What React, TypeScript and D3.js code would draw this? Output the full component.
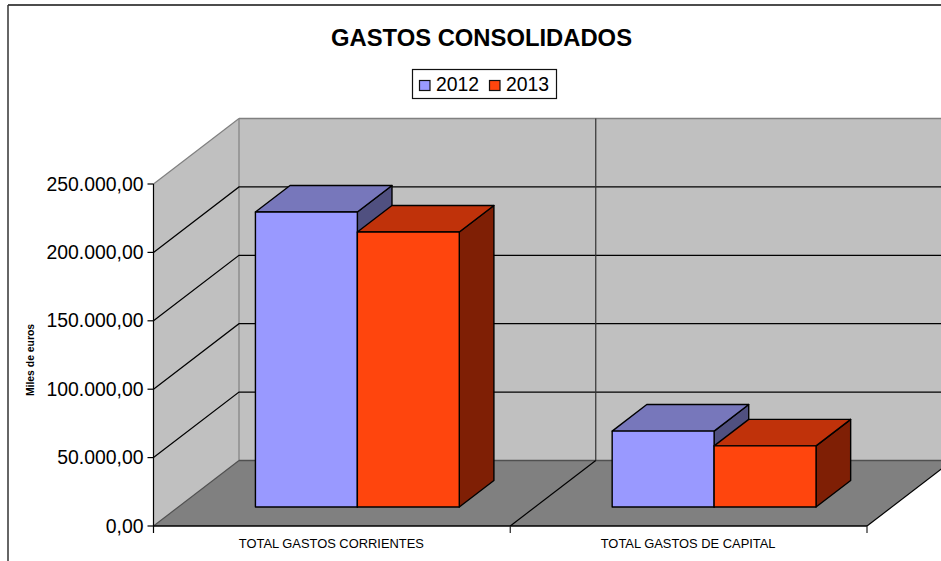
import React from "react";
import * as d3 from "d3";

const categories = ["TOTAL GASTOS CORRIENTES", "TOTAL GASTOS DE CAPITAL"];
const years = ["2012", "2013"];
const values2012 = [215600, 55500];
const values2013 = [201000, 44700];
const yTickValues = [0, 50000, 100000, 150000, 200000, 250000];

const W = 941;
const H = 561;
const FONT = "'Liberation Sans', Arial, sans-serif";
const frontLeft = 153.5;
const frontRight = 867;
const depthX = 85.5;
const depthY = 65.5;
const barDepthStart = 0.298;
const barDepthEnd = 0.703;

const fills = [
  { front: "#9999FF", top: "#7777BB", side: "#505080" },
  { front: "#FF450D", top: "#C0320A", side: "#7F1F05" },
];

const fmt = d3.formatLocale({ decimal: ",", thousands: ".", grouping: [3], currency: ["", ""] }).format(",.2f");

const y = d3.scaleLinear().domain([0, 250000]).range([526, 184]);
const xCat = d3.scaleBand<string>().domain(categories).range([frontLeft, frontRight]);
const xSeries = d3.scaleBand<string>().domain(years).range([0, xCat.bandwidth()]).paddingInner(0).paddingOuter(0.75);
const catEdges = d3.range(categories.length + 1).map((i) => frontLeft + i * xCat.bandwidth());

const poly = (pts: [number, number][]) => pts.map((p) => p.join(",")).join(" ");

export default function App() {
  const backLeft = frontLeft + depthX;
  const y0 = y(0);
  const yMax = y(250000);
  const sx = barDepthStart * depthX;
  const sy = (barDepthStart - 0.008) * depthY;
  const bx = (barDepthEnd - barDepthStart) * depthX;
  const by = (barDepthEnd - barDepthStart) * depthY;

  const bars = categories.flatMap((c, ci) =>
    [values2012, values2013].map((vals, si) => {
      const x0 = xCat(c)! + xSeries(years[si])! + sx;
      const x1 = x0 + xSeries.bandwidth();
      const yb = y0 - sy;
      const yt = yb - (y0 - y(vals[ci]));
      return { key: c + si, x0, x1, yb, yt, col: fills[si], si };
    })
  );

  return (
    <svg width={W} height={H} viewBox={`0 0 ${W} ${H}`} style={{ position: "absolute", left: 0, top: 0, display: "block", background: "#fff" }} fontFamily={FONT}>
      {/* chart frame */}
      <line x1={8} x2={W} y1={5} y2={5} stroke="#111" strokeWidth={1.5} />
      <line x1={8} x2={8} y1={5} y2={H} stroke="#333" strokeWidth={1.5} />

      <text x={481.5} y={45.8} textAnchor="middle" fontSize={23.8} fontWeight="bold" fill="#000">GASTOS CONSOLIDADOS</text>

      {/* legend */}
      <rect x={412.5} y={69.5} width={144} height={29} fill="#fff" stroke="#111" strokeWidth={1.2} />
      {years.map((yr, i) => (
        <g key={yr}>
          <rect x={419.5 + i * 70} y={80.5} width={10.5} height={10} fill={fills[i].front} stroke="#111" strokeWidth={1.2} />
          <text x={436 + i * 70} y={91} fontSize={19.4} fill="#000">{yr}</text>
        </g>
      ))}

      {/* walls and floor */}
      <polygon points={poly([[backLeft, yMax - depthY], [W + 2, yMax - depthY], [W + 2, y0 - depthY], [backLeft, y0 - depthY]])} fill="#C0C0C0" />
      <polygon points={poly([[frontLeft, yMax], [backLeft, yMax - depthY], [backLeft, y0 - depthY], [frontLeft, y0]])} fill="#C0C0C0" />
      <polygon points={poly([[frontLeft, y0], [backLeft, y0 - depthY], [frontRight + depthX, y0 - depthY], [frontRight, y0]])} fill="#808080" />

      {/* wall edges */}
      <line x1={frontLeft} y1={yMax} x2={backLeft} y2={yMax - depthY} stroke="#808080" strokeWidth={1.2} />
      <line x1={backLeft} y1={yMax - depthY} x2={W} y2={yMax - depthY} stroke="#808080" strokeWidth={1.5} />
      <line x1={backLeft} y1={yMax - depthY} x2={backLeft} y2={y0 - depthY} stroke="#808080" strokeWidth={1.2} />
      <line x1={backLeft} y1={y0 - depthY} x2={W} y2={y0 - depthY} stroke="#505050" strokeWidth={1.5} />
      <line x1={frontLeft} y1={y0} x2={backLeft} y2={y0 - depthY} stroke="#505050" strokeWidth={1.2} />

      {/* gridlines */}
      {yTickValues.slice(1, -1).map((t) => (
        <polyline key={t} points={poly([[frontLeft, y(t)], [backLeft, y(t) - depthY], [W, y(t) - depthY]])} fill="none" stroke="#000" strokeWidth={1.2} />
      ))}
      <line x1={backLeft + xCat.bandwidth()} y1={yMax - depthY} x2={backLeft + xCat.bandwidth()} y2={y0 - depthY} stroke="#333" strokeWidth={1.2} />

      {/* floor dividers and right edge */}
      {catEdges.slice(1).map((x) => (
        <line key={x} x1={x} y1={y0} x2={x + depthX} y2={y0 - depthY} stroke="#000" strokeWidth={1.2} />
      ))}

      {/* bars */}
      {bars.map((b) => (
        <g key={b.key} stroke="#000" strokeWidth={1.4} strokeLinejoin="round">
          <polygon points={poly([[b.x1, b.yt], [b.x1 + bx, b.yt - by], [b.x1 + bx, b.yb - by], [b.x1, b.yb]])} fill={b.col.side} />
          <polygon points={poly([[b.x0, b.yt], [b.x0 + bx, b.yt - by], [b.x1 + bx, b.yt - by], [b.x1, b.yt]])} fill={b.col.top} />
          <rect x={b.x0} y={b.yt} width={b.x1 - b.x0} height={b.yb - b.yt} fill={b.col.front} />
        </g>
      ))}

      {/* axes */}
      <line x1={frontLeft} y1={yMax} x2={frontLeft} y2={y0 + 7} stroke="#000" strokeWidth={1.2} />
      <line x1={frontLeft} y1={y0} x2={frontRight} y2={y0} stroke="#000" strokeWidth={1.5} />
      {catEdges.slice(1).map((x) => (
        <line key={x} x1={x} x2={x} y1={y0} y2={y0 + 7} stroke="#222" strokeWidth={1.2} />
      ))}
      {yTickValues.map((t) => (
        <g key={t}>
          <line x1={frontLeft - 6} x2={frontLeft} y1={y(t)} y2={y(t)} stroke="#000" strokeWidth={1.2} />
          <text x={frontLeft - 10} y={y(t) + 6.5} textAnchor="end" fontSize={19.4} fill="#000">{fmt(t)}</text>
        </g>
      ))}
      {categories.map((c) => (
        <text key={c} x={xCat(c)! + xCat.bandwidth() / 2 - 0.5} y={547.5} textAnchor="middle" fontSize={12.9} fill="#000">{c}</text>
      ))}
      <text transform="translate(33.5,360) rotate(-90)" textAnchor="middle" fontSize={10.4} fontWeight="bold" fill="#000">Miles de euros</text>
    </svg>
  );
}
